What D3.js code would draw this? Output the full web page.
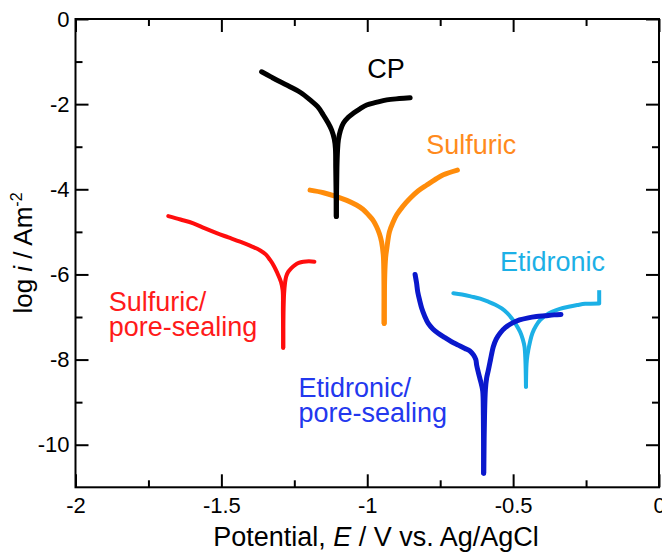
<!DOCTYPE html>
<html>
<head>
<meta charset="utf-8">
<script src="https://cdn.jsdelivr.net/npm/d3@7"></script>
<style>
  html, body { margin: 0; padding: 0; background: #fff; }
  svg { display: block; }
</style>
</head>
<body>
<svg id="chart" width="662" height="555"></svg>
<script>
// ---------- DATA ----------
// Potential E (V vs. Ag/AgCl) and log i (A m^-2); each curve = cathodic branch + anodic branch
const xMajorTicks = [-2, -1.5, -1, -0.5, 0];
const xTickLabels = ["-2", "-1.5", "-1", "-0.5", "0"];
const xMinorTicks = [-1.75, -1.25, -0.75, -0.25];
const yMajorTicks = [0, -2, -4, -6, -8, -10];
const yTickLabels = ["0", "-2", "-4", "-6", "-8", "-10"];
const yMinorTicks = [-1, -3, -5, -7, -9];

const cpCathodic = [[-1.362,-1.24],[-1.33,-1.36],[-1.30,-1.47],[-1.265,-1.59],[-1.23,-1.72],[-1.196,-1.90],
  [-1.17,-2.06],[-1.151,-2.25],[-1.135,-2.43],[-1.122,-2.61],[-1.113,-2.82],[-1.109,-3.05],[-1.108,-3.5],
  [-1.107,-4.0],[-1.106,-4.64]];
const cpAnodic = [[-1.106,-4.64],[-1.104,-3.5],[-1.102,-3.1],[-1.099,-2.84],[-1.092,-2.62],[-1.082,-2.45],
  [-1.065,-2.31],[-1.048,-2.215],[-1.025,-2.11],[-1.002,-2.02],[-0.97,-1.96],[-0.933,-1.90],[-0.89,-1.87],
  [-0.853,-1.85]];

const sulfuricCathodic = [[-1.196,-4.02],[-1.15,-4.08],[-1.105,-4.17],[-1.07,-4.26],[-1.037,-4.37],
  [-1.015,-4.47],[-0.996,-4.60],[-0.98,-4.73],[-0.968,-4.88],[-0.958,-5.05],[-0.951,-5.23],[-0.945,-5.54],
  [-0.943,-6.0],[-0.942,-7.15]];
const sulfuricAnodic = [[-0.942,-7.15],[-0.940,-6.0],[-0.937,-5.6],[-0.933,-5.39],[-0.924,-5.00],
  [-0.912,-4.78],[-0.899,-4.60],[-0.878,-4.40],[-0.853,-4.21],[-0.826,-4.04],[-0.796,-3.90],[-0.767,-3.77],
  [-0.739,-3.66],[-0.691,-3.55]];

const sulfSealCathodic = [[-1.682,-4.63],[-1.64,-4.71],[-1.596,-4.80],[-1.556,-4.92],[-1.516,-5.03],
  [-1.476,-5.13],[-1.436,-5.23],[-1.40,-5.33],[-1.368,-5.43],[-1.348,-5.53],[-1.333,-5.66],[-1.320,-5.80],
  [-1.310,-5.94],[-1.296,-6.17],[-1.290,-6.37],[-1.289,-6.9],[-1.288,-7.72]];
const sulfSealAnodic = [[-1.288,-7.72],[-1.287,-6.9],[-1.285,-6.45],[-1.282,-6.21],[-1.278,-6.05],
  [-1.271,-5.94],[-1.26,-5.85],[-1.248,-5.78],[-1.235,-5.73],[-1.219,-5.70],[-1.20,-5.69],[-1.181,-5.70]];

const etidCathodic = [[-0.705,-6.44],[-0.675,-6.47],[-0.642,-6.52],[-0.613,-6.57],[-0.585,-6.64],
  [-0.561,-6.71],[-0.539,-6.80],[-0.52,-6.91],[-0.505,-7.03],[-0.49,-7.18],[-0.476,-7.35],[-0.467,-7.52],
  [-0.461,-7.70],[-0.458,-8.0],[-0.456,-8.64]];
const etidAnodic = [[-0.456,-8.64],[-0.454,-8.1],[-0.451,-7.9],[-0.448,-7.78],[-0.442,-7.58],[-0.434,-7.38],
  [-0.422,-7.21],[-0.407,-7.07],[-0.388,-6.96],[-0.367,-6.88],[-0.34,-6.81],[-0.310,-6.76],[-0.28,-6.72],
  [-0.253,-6.69],[-0.205,-6.68]];
const etidTail = [[-0.205,-6.68],[-0.205,-6.37]];

const etidSealCathodic = [[-0.836,-6.00],[-0.831,-6.2],[-0.827,-6.41],[-0.82,-6.62],[-0.813,-6.80],
  [-0.803,-6.98],[-0.791,-7.15],[-0.775,-7.28],[-0.757,-7.38],[-0.735,-7.48],[-0.711,-7.58],[-0.688,-7.66],
  [-0.665,-7.74],[-0.648,-7.80],[-0.636,-7.89],[-0.628,-8.0],[-0.625,-8.13],[-0.620,-8.28],[-0.614,-8.44],
  [-0.608,-8.6],[-0.604,-8.75],[-0.602,-9.3],[-0.601,-10.67]];
const etidSealAnodic = [[-0.601,-10.67],[-0.598,-9.3],[-0.595,-8.7],[-0.591,-8.44],[-0.585,-8.25],
  [-0.579,-8.05],[-0.574,-7.88],[-0.568,-7.70],[-0.558,-7.52],[-0.545,-7.38],[-0.527,-7.25],[-0.505,-7.15],
  [-0.478,-7.07],[-0.448,-7.02],[-0.42,-6.99],[-0.390,-6.97],[-0.36,-6.95],[-0.336,-6.94]];

// ---------- CHART ----------
const svg = d3.select("#chart");
const m = { left: 75.5, right: 659, top: 19, bottom: 487.3 };
const x = d3.scaleLinear().domain([-2, 0]).range([m.left, m.right]);
const y = d3.scaleLinear().domain([-11, 0]).range([m.bottom, m.top]);
const FONT = "'Liberation Sans', Arial, Helvetica, sans-serif";

// axes: major + minor ticks on all four sides, pointing inward
function styleAxis(g, fs) {
  g.select(".domain").remove();
  g.attr("font-family", FONT).attr("font-size", fs);
  g.selectAll(".tick line").attr("stroke", "#000").attr("stroke-width", 2);
  g.selectAll(".tick text").attr("fill", "#000");
}
const MAJ = 13, MIN = 7;
svg.append("g").attr("transform", `translate(0,${m.bottom})`)
  .call(d3.axisBottom(x).tickValues(xMajorTicks).tickSize(-MAJ).tickPadding(10.5)
    .tickFormat((d, i) => xTickLabels[i]))
  .call(g => styleAxis(g, 22));
svg.append("g").attr("transform", `translate(0,${m.bottom})`)
  .call(d3.axisBottom(x).tickValues(xMinorTicks).tickSize(-MIN).tickFormat(""))
  .call(g => styleAxis(g, 22));
svg.append("g").attr("transform", `translate(0,${m.top})`)
  .call(d3.axisTop(x).tickValues(xMajorTicks).tickSize(-MAJ).tickFormat(""))
  .call(g => styleAxis(g, 22));
svg.append("g").attr("transform", `translate(0,${m.top})`)
  .call(d3.axisTop(x).tickValues(xMinorTicks).tickSize(-MIN).tickFormat(""))
  .call(g => styleAxis(g, 22));
svg.append("g").attr("transform", `translate(${m.left},0)`)
  .call(d3.axisLeft(y).tickValues(yMajorTicks).tickSize(-MAJ).tickPadding(6)
    .tickFormat((d, i) => yTickLabels[i]))
  .call(g => styleAxis(g, 22));
svg.append("g").attr("transform", `translate(${m.left},0)`)
  .call(d3.axisLeft(y).tickValues(yMinorTicks).tickSize(-MIN).tickFormat(""))
  .call(g => styleAxis(g, 22));
svg.append("g").attr("transform", `translate(${m.right},0)`)
  .call(d3.axisRight(y).tickValues(yMajorTicks).tickSize(-MAJ).tickFormat(""))
  .call(g => styleAxis(g, 22));
svg.append("g").attr("transform", `translate(${m.right},0)`)
  .call(d3.axisRight(y).tickValues(yMinorTicks).tickSize(-MIN).tickFormat(""))
  .call(g => styleAxis(g, 22));

// frame
svg.append("rect")
  .attr("x", m.left).attr("y", m.top)
  .attr("width", m.right - m.left).attr("height", m.bottom - m.top)
  .attr("fill", "none").attr("stroke", "#000").attr("stroke-width", 2);

// curves
const lineSmooth = d3.line().x(d => x(d[0])).y(d => y(d[1])).curve(d3.curveCatmullRom.alpha(0.5));
const lineStraight = d3.line().x(d => x(d[0])).y(d => y(d[1]));
const curves = [
  { parts: [sulfSealCathodic, sulfSealAnodic], color: "#ff0d0d", w: 4 },
  { parts: [sulfuricCathodic, sulfuricAnodic], color: "#ff8c0a", w: 5 },
  { parts: [cpCathodic, cpAnodic], color: "#000000", w: 5 },
  { parts: [etidCathodic, etidAnodic], color: "#1cb0e6", w: 4, tail: etidTail },
  { parts: [etidSealCathodic, etidSealAnodic], color: "#0a18cc", w: 5 }
];
curves.forEach(c => {
  c.parts.forEach(p => {
    svg.append("path").attr("d", lineSmooth(p)).attr("fill", "none")
      .attr("stroke", c.color).attr("stroke-width", c.w)
      .attr("stroke-linecap", "round").attr("stroke-linejoin", "round");
  });
  if (c.tail) {
    svg.append("path").attr("d", lineStraight(c.tail)).attr("fill", "none")
      .attr("stroke", c.color).attr("stroke-width", c.w)
      .attr("stroke-linecap", "butt").attr("stroke-linejoin", "miter");
  }
});

// annotations
const ann = svg.append("g").attr("font-family", FONT).attr("font-size", 27);
function label(lines, ex, ly, color) {
  const t = ann.append("text").attr("x", x(ex)).attr("y", y(ly)).attr("fill", color);
  lines.forEach((s, i) => t.append("tspan").attr("x", x(ex)).attr("dy", i === 0 ? 0 : 25).text(s));
}
label(["CP"], -1.0, -1.39, "#000");
label(["Sulfuric"], -0.798, -3.16, "#ff8a1c");
label(["Etidronic"], -0.545, -5.91, "#1cb0e6");
label(["Sulfuric/", "pore-sealing"], -1.886, -6.855, "#ff1a1a");
label(["Etidronic/", "pore-sealing"], -1.236, -8.868, "#2338ee");

// axis titles
const xt = svg.append("text").attr("x", 376).attr("y", 546)
  .attr("text-anchor", "middle").attr("font-family", FONT).attr("font-size", 27).attr("fill", "#000");
xt.append("tspan").text("Potential, ");
xt.append("tspan").attr("font-style", "italic").text("E");
xt.append("tspan").text(" / V vs. Ag/AgCl");

const yt = svg.append("text").attr("transform", "translate(32,253) rotate(-90)")
  .attr("text-anchor", "middle").attr("font-family", FONT).attr("font-size", 26).attr("fill", "#000");
yt.append("tspan").text("log ");
yt.append("tspan").attr("font-style", "italic").text("i");
yt.append("tspan").text(" / Am");
yt.append("tspan").attr("font-size", 16).attr("dy", -10).text("-2");
</script>
</body>
</html>
